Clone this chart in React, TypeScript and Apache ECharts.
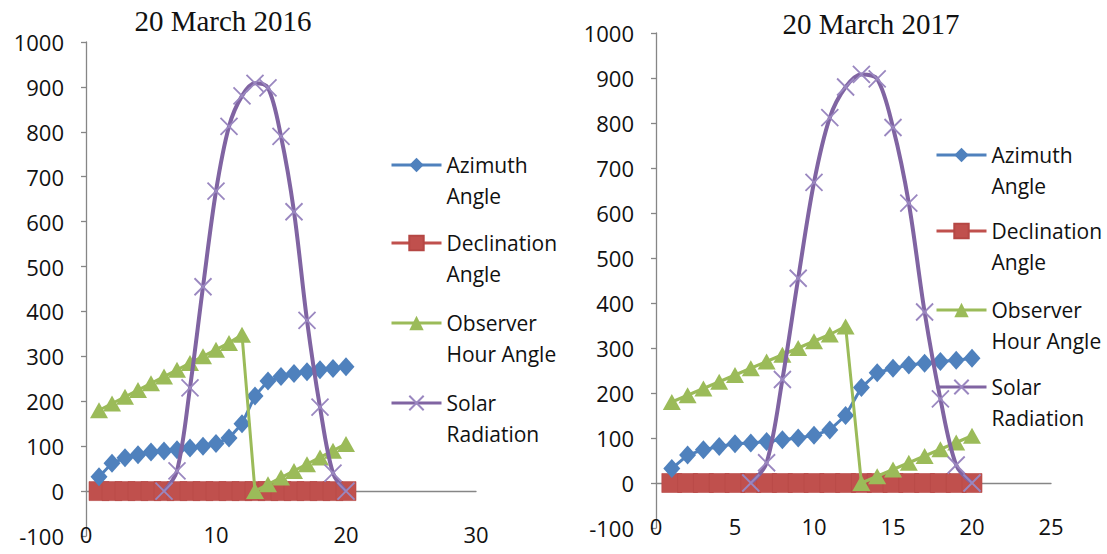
import React, { useEffect, useRef } from "react";
import * as echarts from "echarts";

const hours = [1, 2, 3, 4, 5, 6, 7, 8, 9, 10, 11, 12, 13, 14, 15, 16, 17, 18, 19, 20];
const azimuthAngle = [32, 62, 74, 81, 87, 89, 92, 96, 100, 106, 118, 150, 212, 245, 255, 262, 266, 270, 273, 277];
const declinationAngle = [0, 0, 0, 0, 0, 0, 0, 0, 0, 0, 0, 0, 0, 0, 0, 0, 0, 0, 0, 0];
const observerHourAngle = [180, 195, 210, 225, 240, 255, 270, 285, 300, 315, 330, 348, 0, 15, 30, 45, 60, 75, 90, 105];
const radiationHours = [6, 7, 8, 9, 10, 11, 12, 13, 14, 15, 16, 17, 18, 19, 20];
const solarRadiation = [0, 45, 230, 455, 668, 812, 880, 908, 898, 790, 622, 380, 187, 40, 0];

const seriesNames = ["Azimuth Angle", "Declination Angle", "Observer Hour Angle", "Solar Radiation"];
const legendLabels = ["Azimuth\nAngle", "Declination\nAngle", "Observer\nHour Angle", "Solar\nRadiation"];
const titles = ["20 March 2016", "20 March 2017"];
const xMax = [30, 25];
const xInterval = [10, 5];

const BLUE = "#4F81BD";
const RED = "#C0504D";
const GREEN = "#9BBB59";
const PURPLE = "#8064A2";
const AXIS = "#868686";
const FONT = "Open Sans";

const pairs = (xs: number[], ys: number[]) => xs.map((x, i) => [x, ys[i]]);

export default function App() {
  const ref = useRef<HTMLDivElement>(null);
  useEffect(() => {
    if (!ref.current) return;
    const chart = echarts.init(ref.current, undefined, { renderer: "svg" });

    const grids = [
      { left: 86, top: 42, width: 390, height: 494, outerBoundsMode: "none", containLabel: false },
      { left: 656, top: 33, width: 395, height: 495, outerBoundsMode: "none", containLabel: false },
    ];
    const legendLeft = [390, 935];
    const firstLineY = [
      [165, 243, 323, 403],
      [155, 231, 310, 387],
    ];
    const titlePos = [
      { x: 223, y: 6 },
      { x: 871, y: 9 },
    ];

    const series: any[] = [];
    const legends: any[] = [];
    for (let g = 0; g < 2; g++) {
      series.push(
        {
          name: seriesNames[0],
          type: "line",
          xAxisIndex: g,
          yAxisIndex: g,
          data: pairs(hours, azimuthAngle),
          symbol: "diamond",
          symbolSize: [17, 19],
          lineStyle: { color: BLUE, width: 3 },
          itemStyle: { color: BLUE },
          z: 3,
        },
        {
          name: seriesNames[1],
          type: "line",
          xAxisIndex: g,
          yAxisIndex: g,
          data: pairs(hours, declinationAngle),
          symbol: "rect",
          symbolSize: [20, 19],
          lineStyle: { color: RED, width: 3 },
          itemStyle: { color: RED, borderColor: "#B54744", borderWidth: 0.6 },
          z: 2,
        },
        {
          name: seriesNames[2],
          type: "line",
          xAxisIndex: g,
          yAxisIndex: g,
          data: pairs(hours, observerHourAngle),
          symbol: "triangle",
          symbolSize: [18, 16],
          lineStyle: { color: GREEN, width: 3 },
          itemStyle: { color: GREEN },
          z: 4,
        },
        {
          name: seriesNames[3],
          type: "line",
          xAxisIndex: g,
          yAxisIndex: g,
          data: pairs(radiationHours, solarRadiation),
          smooth: 0.33,
          symbol: "path://M0,0L10,10M10,0L0,10",
          symbolSize: 17,
          lineStyle: { color: PURPLE, width: 4 },
          itemStyle: { color: PURPLE, borderColor: "#9A87C0", borderWidth: 1.8 },
          z: 5,
        }
      );
      for (let k = 0; k < 4; k++) {
        legends.push({
          data: [seriesNames[k]],
          left: legendLeft[g],
          top: firstLineY[g][k] - 46.5,
          orient: "vertical",
          padding: 0,
          itemWidth: 50,
          itemHeight: 18,
          selectedMode: false,
          lineStyle: { width: 3 },
          formatter: (name: string) => " \n" + legendLabels[seriesNames.indexOf(name)],
          textStyle: {
            fontFamily: FONT,
            fontSize: 21,
            lineHeight: 31,
            color: "#111",
          },
        });
      }
    }

    chart.setOption({
      animation: false,
      backgroundColor: "#ffffff",
      title: titles.map((t, g) => ({
        text: t,
        left: titlePos[g].x,
        top: titlePos[g].y,
        textAlign: "center",
        padding: 0,
        textStyle: {
          fontFamily: "Liberation Serif",
          fontSize: 29,
          fontWeight: "normal",
          color: "#111",
        },
      })),
      grid: grids,
      xAxis: [0, 1].map((g) => ({
        type: "value",
        gridIndex: g,
        min: 0,
        max: xMax[g],
        interval: xInterval[g],
        axisLine: { show: true, onZero: true, lineStyle: { color: AXIS, width: 1.3 } },
        axisTick: { show: false },
        splitLine: { show: false },
        axisLabel: {
          margin: -2,
          verticalAlign: "middle",
          fontFamily: FONT,
          fontSize: 22,
          lineHeight: 22,
          color: "#111",
        },
      })),
      yAxis: [0, 1].map((g) => ({
        type: "value",
        gridIndex: g,
        min: -100,
        max: 1000,
        interval: 100,
        axisLine: { show: true, onZero: false, lineStyle: { color: AXIS, width: 1.3 } },
        axisTick: { show: true, inside: false, length: 5, lineStyle: { color: AXIS, width: 1.3 } },
        splitLine: { show: false },
        axisLabel: {
          margin: 22,
          fontFamily: FONT,
          fontSize: 22,
          lineHeight: 22,
          color: "#111",
          formatter: (v: number) => String(v),
        },
      })),
      legend: legends,
      series,
    });
    return () => chart.dispose();
  }, []);
  return (
    <div
      ref={ref}
      style={{ position: "fixed", left: 0, top: 0, width: 1107, height: 554, background: "#fff" }}
    />
  );
}
